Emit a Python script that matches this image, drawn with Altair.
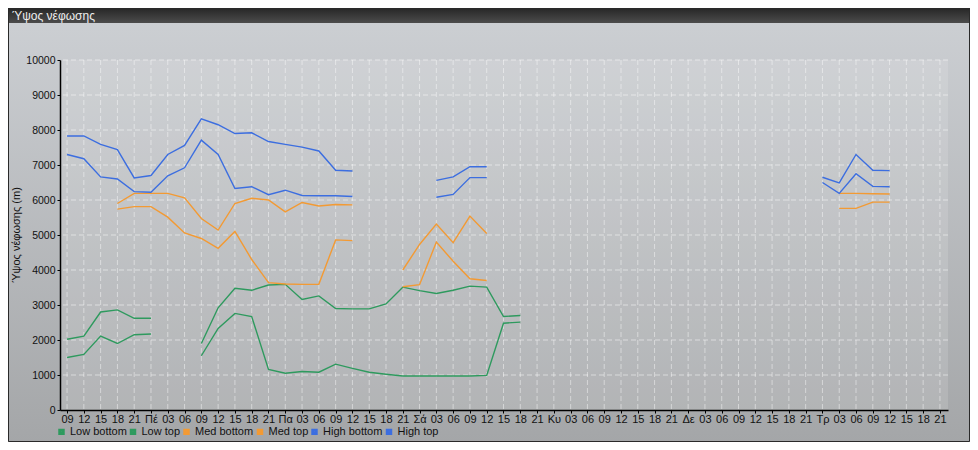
import altair as alt
import pandas as pd

# ---- tick labels -------------------------------------------------------
first_day = ["09", "12", "15", "18", "21"]
day_names = ["Πέ", "Πα", "Σά", "Κυ", "Δε", "Τρ"]
hours = ["03", "06", "09", "12", "15", "18", "21"]
tick_labels = first_day + [h for d in day_names for h in [d] + hours]
N = len(tick_labels)  # 53 three-hour steps

# ---- series (metres), None = no value ----------------------------------
low_bottom = [1500, 1590, 2110, 1900, 2150, 2170, None, None,
              1550, 2330, 2760, 2670, 1160, 1050, 1100, 1080, 1310, 1190,
              1080, 1020, 970, 970, 970, 970, 970, 990, 2480, 2510] + [None] * 25
low_top = [2020, 2110, 2800, 2860, 2620, 2620, None, None,
           1900, 2920, 3480, 3420, 3570, 3590, 3160, 3260, 2900, 2890,
           2890, 3030, 3510, 3410, 3330, 3420, 3540, 3510, 2670, 2700] + [None] * 25
med_bottom = ([None] * 3 +
              [5740, 5810, 5810, 5510, 5060, 4900, 4620, 5100, 4300, 3640, 3600,
               3590, 3590, 4860, 4840] +
              [None] * 2 + [3520, 3580, 4800, 4250, 3750, 3700] +
              [None] * 20 + [5760, 5760, 5940, 5940] + [None] * 3)
med_top = ([None] * 3 +
           [5900, 6190, 6190, 6190, 6060, 5470, 5140, 5900, 6050, 6000, 5660,
            5930, 5830, 5870, 5860] +
           [None] * 2 + [4000, 4730, 5310, 4780, 5540, 5040] +
           [None] * 20 + [6190, 6190, 6180, 6170] + [None] * 3)
high_bottom = ([7300, 7180, 6660, 6600, 6240, 6220, 6690, 6920, 7710, 7300, 6330,
                6380, 6150, 6280, 6130, 6120, 6120, 6100] +
               [None] * 4 + [6080, 6160, 6640, 6640] +
               [None] * 19 + [6500, 6190, 6750, 6390, 6380] + [None] * 3)
high_top = ([7830, 7830, 7590, 7440, 6630, 6700, 7300, 7560, 8320, 8150, 7900,
             7920, 7670, 7590, 7510, 7400, 6850, 6830] +
            [None] * 4 + [6560, 6660, 6950, 6950] +
            [None] * 19 + [6650, 6490, 7300, 6850, 6840] + [None] * 3)

series_names = ["Low bottom", "Low top", "Med bottom", "Med top", "High bottom", "High top"]
series_values = [low_bottom, low_top, med_bottom, med_top, high_bottom, high_top]
series_colors = ["#2e9a5e", "#2e9a5e", "#f39a33", "#f39a33", "#3c6ee0", "#3c6ee0"]

y_ticks = list(range(0, 10001, 1000))
chart_title = "Ύψος νέφωσης"
y_title = "Ύψος νέφωσης (m)"

# ---- long table with contiguous segments --------------------------------
rows = []
for name, vals in zip(series_names, series_values):
    seg, gap = 0, True
    for i, v in enumerate(vals):
        if v is None:
            gap = True
            continue
        if gap:
            seg += 1
            gap = False
        rows.append({"t": i, "v": v, "s": name, "seg": f"{name}-{seg}"})
df = pd.DataFrame(rows)

W, H = 888, 350
PL, PT, PR, PB = 52, 52, 22, 32

xs = alt.Scale(domain=[-0.42, 52.48], nice=False, zero=False)
ys = alt.Scale(domain=[0, 10000], nice=False)

label_js = "[" + ",".join("'" + l + "'" for l in tick_labels) + "]"
xaxis = alt.Axis(values=list(range(N)), labelExpr=label_js + "[datum.value]",
                 title=None, grid=False, domainColor="#000", domainWidth=1.5,
                 tickColor="#000", tickSize=3, labelFontSize=11,
                 labelFont="Liberation Sans", labelColor="#111", labelPadding=0,
                 labelOverlap=False, labelFlush=False, zindex=1)
yaxis = alt.Axis(values=y_ticks, format="d", title=None, grid=False,
                 domainColor="#000", domainWidth=1.5, tickColor="#000",
                 tickSize=3, labelFontSize=10.5, labelFont="Liberation Sans",
                 labelColor="#111", labelPadding=2, zindex=1)

one = pd.DataFrame({"k": [0]})

body_grad = alt.LinearGradient(
    gradient="linear", x1=0, x2=0, y1=0, y2=1,
    stops=[alt.GradientStop(color="#cdd0d4", offset=0),
           alt.GradientStop(color="#a4a6a8", offset=1)])
bar_grad = alt.LinearGradient(
    gradient="linear", x1=0, x2=0, y1=0, y2=1,
    stops=[alt.GradientStop(color="#262626", offset=0),
           alt.GradientStop(color="#4c4c4c", offset=1)])

body = alt.Chart(one).mark_rect(fill=body_grad).encode(
    x=alt.value(-PL), x2=alt.value(W + PR), y=alt.value(-PT), y2=alt.value(H + PB))
bar = alt.Chart(one).mark_rect(fill=bar_grad).encode(
    x=alt.value(-PL), x2=alt.value(W + PR), y=alt.value(-PT), y2=alt.value(-PT + 15))
border = alt.Chart(one).mark_rect(fillOpacity=0, stroke="#2a2a2a", strokeWidth=1).encode(
    x=alt.value(-PL + 0.5), x2=alt.value(W + PR - 0.5),
    y=alt.value(-PT + 0.5), y2=alt.value(H + PB - 0.5))
title_txt = alt.Chart(one).mark_text(
    text=chart_title, align="left", baseline="middle", fontSize=12,
    font="Liberation Sans", color="#eeeeee").encode(
    x=alt.value(-PL + 4), y=alt.value(-PT + 8))
plot_bg = alt.Chart(one).mark_rect(fill="#ffffff", fillOpacity=0.13).encode(
    x=alt.value(0), x2=alt.value(W), y=alt.value(0), y2=alt.value(H))
ytitle = alt.Chart(one).mark_text(
    text=y_title, angle=270, align="center", baseline="middle", fontSize=11,
    font="Liberation Sans", color="#111").encode(
    x=alt.value(-43), y=alt.value(H / 2))

vgrid = alt.Chart(pd.DataFrame({"t": list(range(N))})).mark_rule(
    color="#ffffff", strokeDash=[5, 3], opacity=0.45, strokeWidth=1).encode(
    x=alt.X("t:Q", scale=xs, axis=xaxis))
hgrid = alt.Chart(pd.DataFrame({"v": y_ticks[1:]})).mark_rule(
    color="#ffffff", strokeDash=[5, 3], opacity=0.5, strokeWidth=1).encode(
    y=alt.Y("v:Q", scale=ys, axis=yaxis))

lines = alt.Chart(df).mark_line(strokeWidth=1.4).encode(
    x=alt.X("t:Q", scale=xs, axis=xaxis),
    y=alt.Y("v:Q", scale=ys, axis=yaxis),
    color=alt.Color("s:N", scale=alt.Scale(domain=series_names, range=series_colors),
                    legend=alt.Legend(orient="none", legendX=-4, legendY=366,
                                      direction="horizontal", columns=6, title=None,
                                      symbolType="square", symbolSize=12,
                                      symbolStrokeWidth=3, labelFontSize=11,
                                      labelFont="Liberation Sans", labelColor="#111",
                                      columnPadding=-2.5, labelOffset=3)),
    detail="seg:N")

chart = alt.layer(body, bar, border, title_txt, plot_bg, ytitle, vgrid, hgrid, lines).properties(
    width=W, height=H,
    autosize=alt.AutoSizeParams(type="none"),
    padding={"left": PL, "top": PT, "right": PR, "bottom": PB},
).configure_view(strokeWidth=0)

chart.save("out.html", embed_options={"renderer": "svg", "actions": False})
